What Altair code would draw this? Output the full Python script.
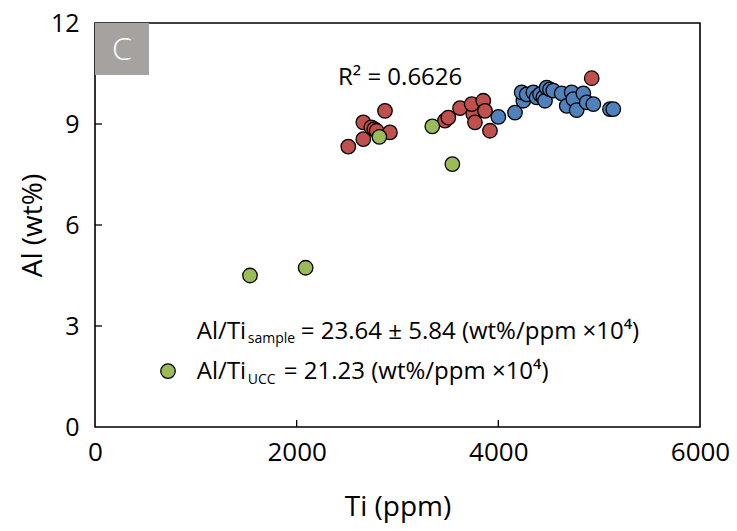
import altair as alt
import pandas as pd

# ---- data ----
red_ti = [2512, 2661, 2661, 2740, 2770, 2793, 2925, 2876, 3471, 3504, 3620, 3752, 3736, 3768, 3851, 3868, 3917, 4926]
red_al = [8.33, 8.55, 9.05, 8.90, 8.85, 8.80, 8.75, 9.39, 9.10, 9.19, 9.47, 9.29, 9.59, 9.05, 9.69, 9.39, 8.80, 10.36]

blue_ti = [4000, 4165, 4248, 4231, 4281, 4347, 4380, 4413, 4446, 4463, 4479, 4512, 4545, 4628, 4678, 4727, 4744,
           4777, 4843, 4876, 4942, 5107, 5140]
blue_al = [9.21, 9.34, 9.69, 9.94, 9.88, 9.94, 9.79, 9.88, 9.79, 9.69, 10.08, 10.03, 9.99, 9.91, 9.54, 9.94, 9.74,
           9.41, 9.91, 9.64, 9.59, 9.44, 9.44]

green_ti = [1537, 2089, 2820, 3345, 3544]
green_al = [4.50, 4.73, 8.62, 8.93, 7.81]

x_ticks = [0, 2000, 4000, 6000]
y_ticks = [0, 3, 6, 9, 12]
inner_x_ticks = [2000, 4000]
inner_y_ticks = [3, 6, 9]

r2_text = "R\u00b2 = 0.6626"
line1 = ["Al/Ti", "sample", "= 23.64 \u00b1 5.84 (wt%/ppm \u00d710\u2074)"]
line2 = ["Al/Ti", "UCC", "= 21.23 (wt%/ppm \u00d710\u2074)"]
panel_label = "C"

RED, BLUE, GREEN = "#C0504D", "#4F81BD", "#9BBB59"
FONT = "Open Sans"
W, H = 605, 404
PT = 210

rows = []
for t, a in zip(red_ti, red_al):
    rows.append({"Ti": t, "Al": a, "g": "red", "o": 0})
for t, a in zip(blue_ti, blue_al):
    rows.append({"Ti": t, "Al": a, "g": "blue", "o": 1})
for t, a in zip(green_ti, green_al):
    rows.append({"Ti": t, "Al": a, "g": "green", "o": 2})
df = pd.DataFrame(rows)

xs = alt.Scale(domain=[0, 6000], nice=False)
ys = alt.Scale(domain=[0, 12], nice=False)

xaxis = alt.Axis(values=x_ticks, format="d", labelFontSize=26, labelFont=FONT, labelColor="black",
                 labelPadding=12, labelFlush=False, ticks=False, domain=False, grid=False,
                 title="Ti (ppm)", titleFont=FONT, titleFontSize=28, titleFontWeight="normal",
                 titleColor="black", titleY=80, titleBaseline="middle")
yaxis = alt.Axis(values=y_ticks, format="d", labelFontSize=25, labelFont=FONT, labelColor="black",
                 labelPadding=16, labelFlush=False, ticks=False, domain=False, grid=False,
                 title="Al (wt%)", titleFont=FONT, titleFontSize=28, titleFontWeight="normal",
                 titleColor="black", titleX=-62, titleY=H / 2, titleBaseline="middle", titleAlign="center")

pts = alt.Chart(df).mark_circle(size=PT, stroke="black", strokeWidth=1.3, opacity=1).encode(
    x=alt.X("Ti:Q", scale=xs, axis=xaxis),
    y=alt.Y("Al:Q", scale=ys, axis=yaxis),
    fill=alt.Fill("g:N", scale=alt.Scale(domain=["red", "blue", "green"], range=[RED, BLUE, GREEN]), legend=None),
    order=alt.Order("o:Q"),
)

xt = alt.Chart(pd.DataFrame({"t": inner_x_ticks})).mark_rule(color="black", strokeWidth=1.3).encode(
    x=alt.X("t:Q", scale=xs), y=alt.value(H), y2=alt.value(H - 7))
yt = alt.Chart(pd.DataFrame({"t": inner_y_ticks})).mark_rule(color="black", strokeWidth=1.3).encode(
    y=alt.Y("t:Q", scale=ys), x=alt.value(0), x2=alt.value(7))

box = alt.Chart(pd.DataFrame({"a": [0]})).mark_rect(color="#A6A2A0").encode(
    x=alt.value(0), x2=alt.value(54), y=alt.value(0), y2=alt.value(52))
boxtxt = alt.Chart(pd.DataFrame({"s": [panel_label]})).mark_text(
    font=FONT, fontSize=32, fontWeight=300, color="white", align="center", baseline="middle").encode(
    x=alt.value(27), y=alt.value(27), text="s:N")

r2 = alt.Chart(pd.DataFrame({"x": [2410], "y": [10.16], "s": [r2_text]})).mark_text(
    font=FONT, fontSize=24, color="black", align="left", baseline="alphabetic").encode(
    x=alt.X("x:Q", scale=xs), y=alt.Y("y:Q", scale=ys), text="s:N")


def line(parts, y_al, offs, subdy):
    layers = []
    for k, (p, dx) in enumerate(zip(parts, offs)):
        fs = 14 if k == 1 else 24
        dy = subdy if k == 1 else 0
        layers.append(alt.Chart(pd.DataFrame({"x": [1010], "y": [y_al], "s": [p]})).mark_text(
            font=FONT, fontSize=fs, color="black", align="left", baseline="alphabetic", dx=dx, dy=dy).encode(
            x=alt.X("x:Q", scale=xs), y=alt.Y("y:Q", scale=ys), text="s:N"))
    return layers


l1 = line(line1, 2.61, [0, 51, 104], 4)
l2 = line(line2, 1.42, [0, 51, 87], 5)

leg = alt.Chart(pd.DataFrame({"x": [724], "y": [1.66]})).mark_circle(
    size=PT, stroke="black", strokeWidth=1.3, opacity=1, fill=GREEN).encode(
    x=alt.X("x:Q", scale=xs), y=alt.Y("y:Q", scale=ys))

chart = alt.layer(pts, xt, yt, box, boxtxt, r2, *l1, *l2, leg).properties(
    width=W, height=H,
    autosize=alt.AutoSizeParams(type="none"),
    padding={"left": 87, "top": 15, "right": 29, "bottom": 100},
).configure_view(stroke="black", strokeWidth=1.6)

chart.save("out.html", embed_options={"renderer": "svg", "actions": False})
